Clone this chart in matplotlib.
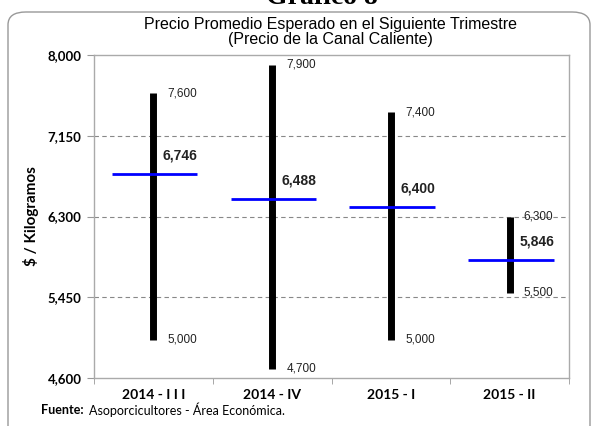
import numpy as np
import matplotlib.pyplot as plt
from matplotlib.patches import FancyBboxPatch

# Data
categories = ["2014 - I I I", "2014 - IV", "2015 - I", "2015 - II"]
highs = [7600, 7900, 7400, 6300]
lows = [5000, 4700, 5000, 5500]
means = [6746, 6488, 6400, 5846]
yticks = [4600, 5450, 6300, 7150, 8000]

fig = plt.figure(figsize=(5.96, 4.26), dpi=100)
W, H = 596, 426
ax = fig.add_axes([94 / W, 1 - 378 / H, (569 - 94) / W, (378 - 55) / H])

x = np.arange(len(categories))

# Vertical ranges
ax.vlines(x, lows, highs, color="black", lw=5, zorder=3)
# Mean markers
ax.hlines(means, x - 0.35, x + 0.37, color="#0000ff", lw=2, zorder=4)

for xi, hi, lo, m in zip(x, highs, lows, means):
    ax.text(xi + 0.12, hi, f"{hi:,}", fontsize=8.5, color="#222222",
            va="center", ha="left", family="Liberation Sans", zorder=5)
    ax.text(xi + 0.12, lo, f"{lo:,}", fontsize=8.5, color="#222222",
            va="center", ha="left", family="Liberation Sans", zorder=5)
    ax.text(xi + 0.08, m + 120, f"{m:,}", fontsize=10, fontweight="bold",
            color="#222222", va="bottom", ha="left", family="Liberation Sans")

ax.set_xlim(-0.5, len(categories) - 0.5)
ax.set_ylim(4600, 8000)
ax.set_yticks(yticks)
ax.set_yticklabels([f"{v:,}" for v in yticks], fontsize=9.5, fontweight="bold",
                   family="Lato")
ax.set_xticks(x)
ax.set_xticklabels(categories, fontsize=10, fontweight="bold", family="Lato")
ax.set_xticks(np.arange(len(categories) + 1) - 0.5, minor=True)
ax.tick_params(axis="x", which="major", length=0, pad=8)
ax.tick_params(axis="x", which="minor", length=4, color="#999999")
ax.tick_params(axis="y", length=5, color="#999999", pad=4)

for v in yticks[1:-1]:
    ax.axhline(v, color="#888888", lw=0.8, ls=(0, (4, 3)), zorder=1)

for s in ax.spines.values():
    s.set_color("#aaaaaa")
    s.set_linewidth(1)

ax.set_ylabel("$ / Kilogramos", fontsize=11, fontweight="bold",
              family="Lato", labelpad=6)

# Rounded outer frame
frame = FancyBboxPatch((8 / W, -0.05), (590 - 8) / W, 1 - 12 / H + 0.05,
                       boxstyle="round,pad=0,rounding_size=0.03",
                       transform=fig.transFigure, facecolor="none",
                       edgecolor="#999999", lw=1, zorder=0)
fig.patches.append(frame)

fig.text(322 / W, 1 + 2 / H, "Gráfico 8", fontsize=20, fontweight="bold",
         family="Liberation Serif", ha="center", va="center")
fig.text(330 / W, 1 - 32 / H,
         "Precio Promedio Esperado en el Siguiente Trimestre\n(Precio de la Canal Caliente)",
         fontsize=11.5, ha="center", va="center", family="Liberation Sans",
         linespacing=1.05)
fig.text(41 / W, 1 - 410 / H, "Fuente:", fontsize=9, fontweight="bold",
         family="Lato", ha="left", va="center")
fig.text(89 / W, 1 - 410 / H, "Asoporcicultores - Área Económica.", fontsize=9,
         family="Lato", ha="left", va="center")

fig.savefig("out.png", dpi=100)
